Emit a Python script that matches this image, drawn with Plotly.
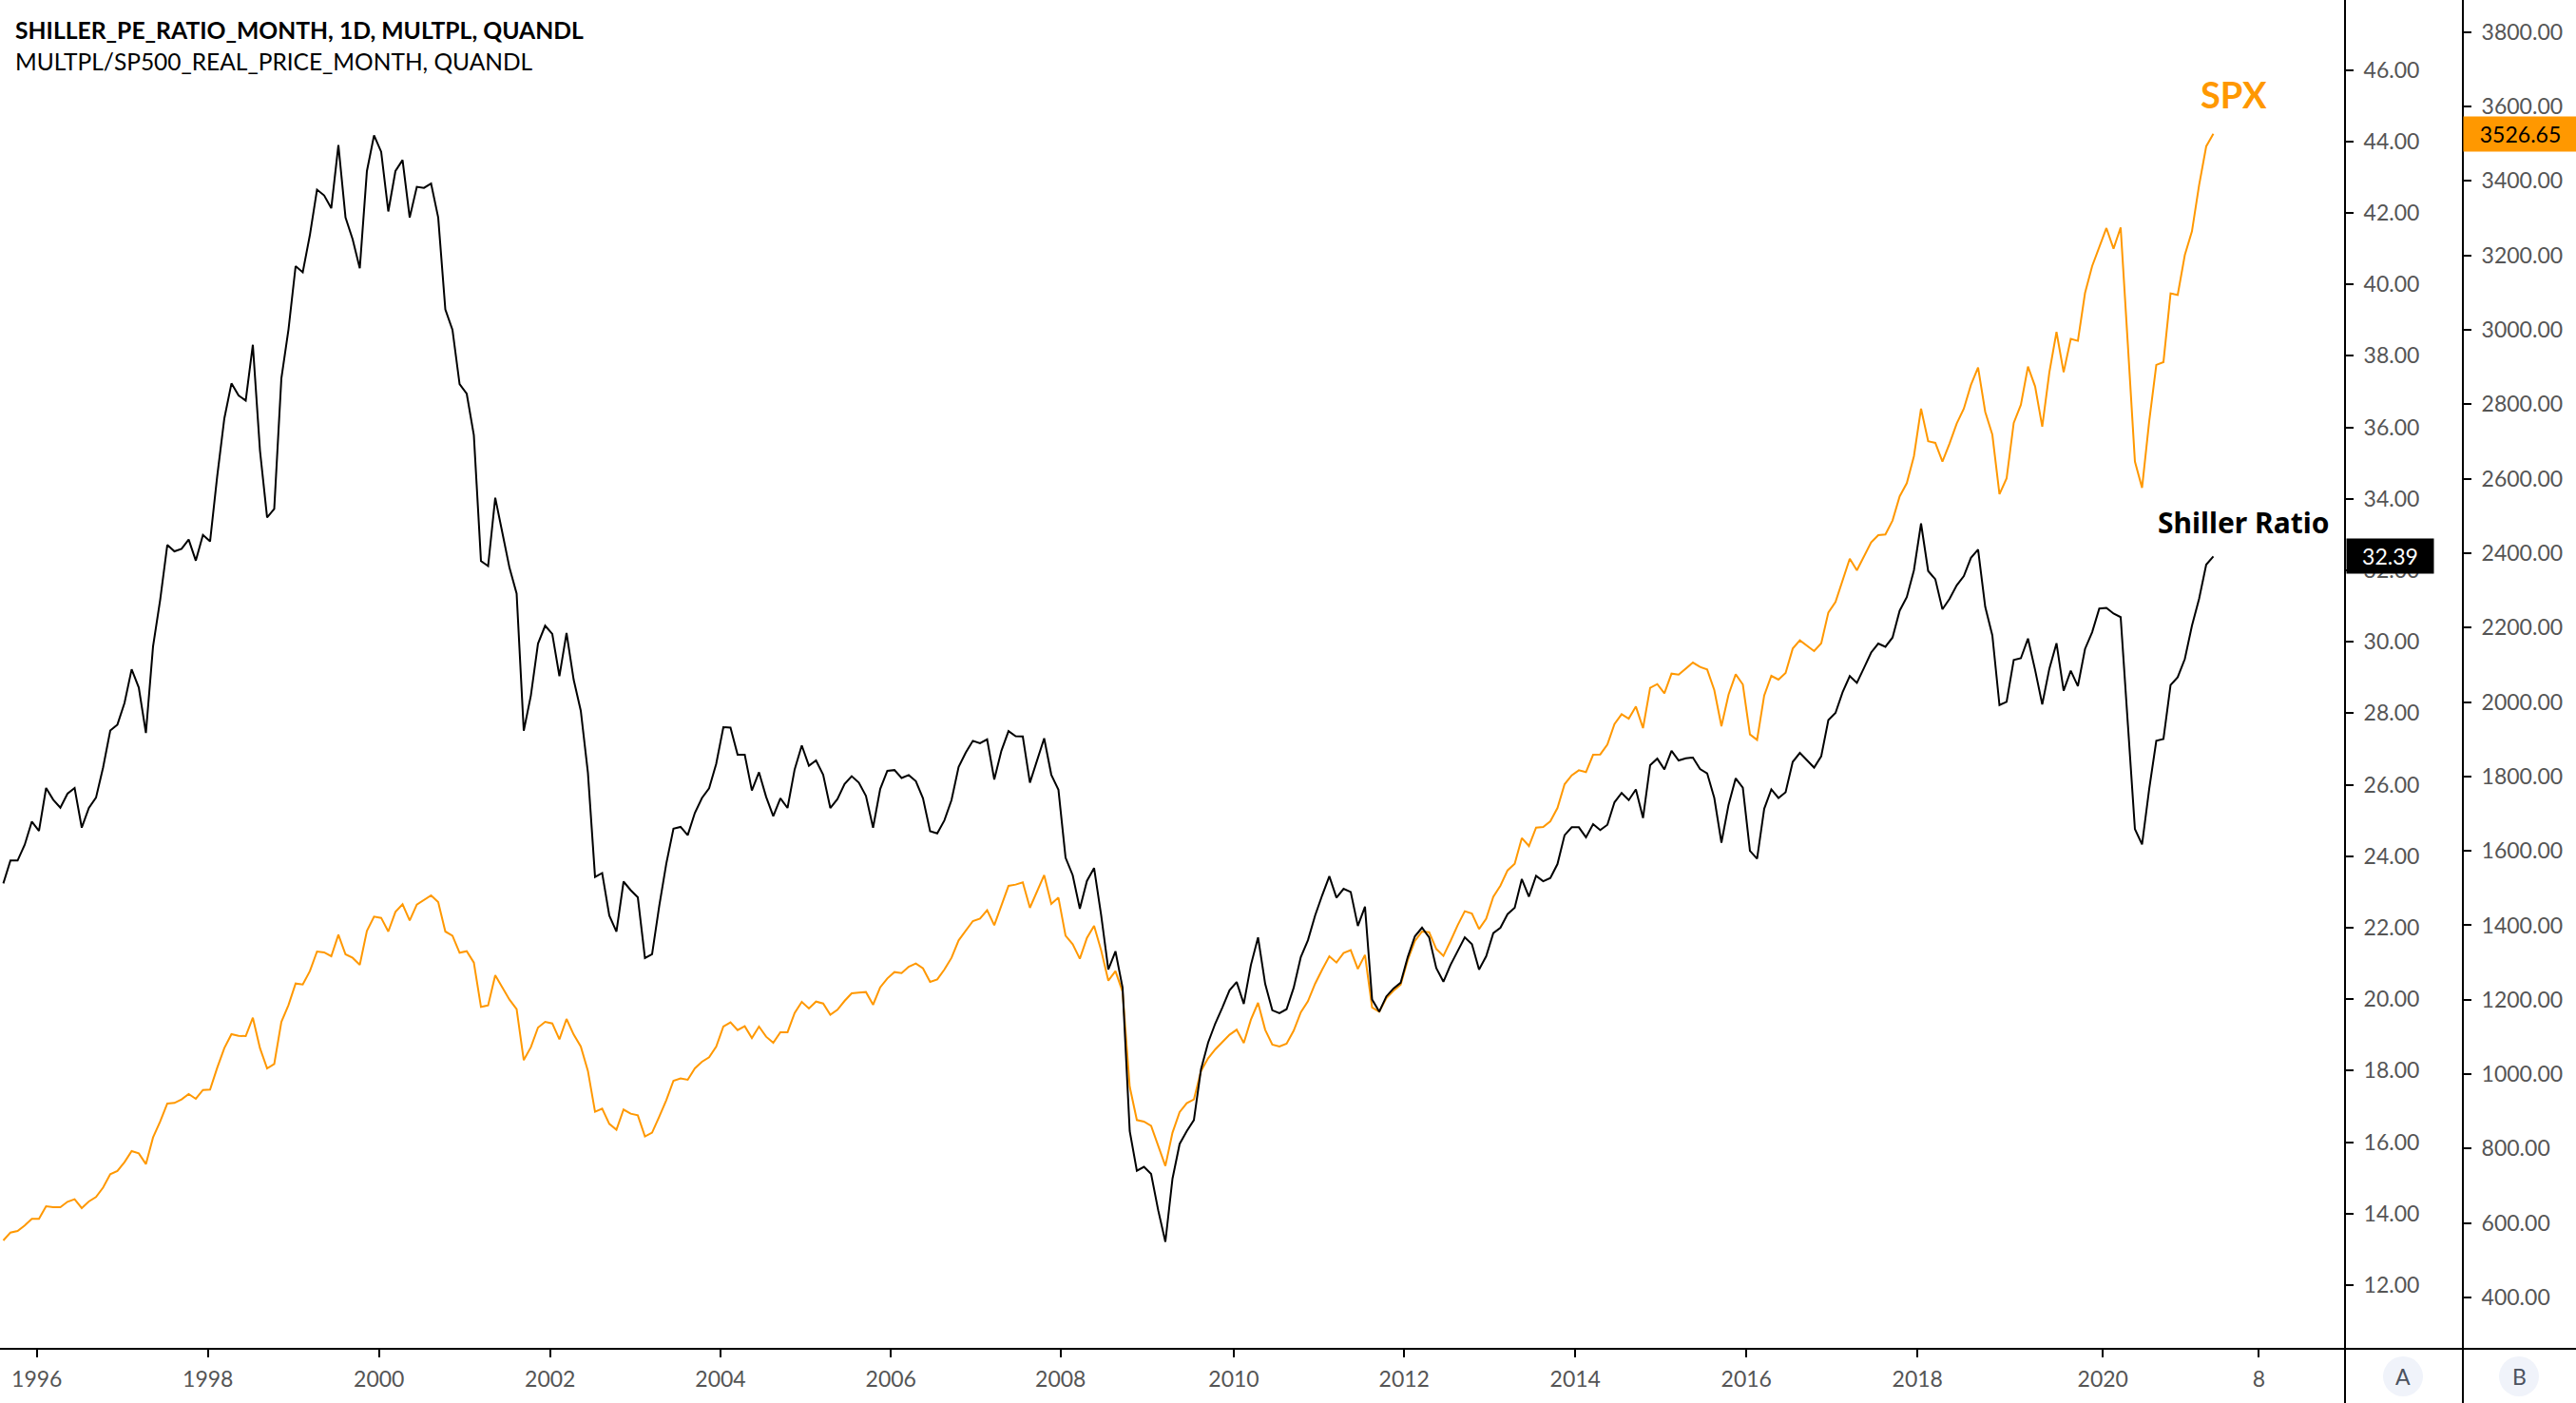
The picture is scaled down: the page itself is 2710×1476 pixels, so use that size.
import plotly.graph_objects as go

shiller = [
 23.24,23.88,23.88,24.32,24.97,24.71,25.91,25.58,25.36,25.75,
 25.91,24.80,25.35,25.64,26.49,27.52,27.68,28.29,29.23,28.72,
 27.45,29.87,31.17,32.71,32.53,32.60,32.86,32.27,32.99,32.81,
 34.63,36.25,37.23,36.89,36.75,38.31,35.35,33.48,33.72,37.37,
 38.74,40.51,40.34,41.38,42.65,42.49,42.13,43.90,41.87,41.26,
 40.45,43.17,44.17,43.71,42.04,43.17,43.48,41.87,42.73,42.70,
 42.82,41.87,39.30,38.73,37.21,36.94,35.78,32.26,32.12,34.03,
 33.05,32.07,31.35,27.51,28.50,29.95,30.45,30.22,29.04,30.25,
 28.94,28.07,26.34,23.42,23.53,22.34,21.89,23.29,23.05,22.85,
 21.15,21.26,22.60,23.80,24.77,24.82,24.59,25.21,25.63,25.90,
 26.59,27.61,27.60,26.84,26.84,25.84,26.35,25.66,25.12,25.62,
 25.35,26.43,27.10,26.53,26.68,26.28,25.35,25.60,26.02,26.24,
 26.06,25.69,24.80,25.88,26.39,26.41,26.19,26.27,26.10,25.62,
 24.70,24.64,25.00,25.57,26.50,26.90,27.23,27.16,27.27,26.15,
 26.95,27.50,27.36,27.35,26.06,26.68,27.30,26.28,25.86,23.96,
 23.47,22.53,23.31,23.67,22.34,20.83,21.34,20.32,16.31,15.20,
 15.31,15.11,14.09,13.21,14.98,15.95,16.31,16.62,18.04,18.79,
 19.32,19.77,20.25,20.48,19.87,20.96,21.73,20.43,19.69,19.61,
 19.72,20.32,21.18,21.65,22.34,22.91,23.44,22.84,23.09,23.00,
 22.05,22.59,19.99,19.65,20.08,20.30,20.46,21.18,21.76,22.00,
 21.73,20.87,20.49,20.96,21.36,21.73,21.54,20.83,21.20,21.85,
 22.00,22.38,22.56,23.36,22.87,23.45,23.30,23.39,23.78,24.59,
 24.81,24.81,24.53,24.90,24.73,24.88,25.51,25.77,25.57,25.87,
 25.07,26.55,26.73,26.43,26.95,26.68,26.74,26.76,26.44,26.32,
 25.63,24.38,25.44,26.18,25.92,24.15,23.93,25.33,25.87,25.63,
 25.79,26.64,26.89,26.68,26.48,26.80,27.81,28.01,28.59,29.04,
 28.85,29.27,29.70,29.95,29.86,30.12,30.87,31.25,32.00,33.31,
 31.98,31.75,30.91,31.20,31.58,31.84,32.35,32.58,30.98,30.18,
 28.23,28.32,29.49,29.54,30.09,29.21,28.25,29.25,29.96,28.63,
 29.19,28.76,29.80,30.27,30.93,30.95,30.79,30.69,27.83,24.76,
 24.33,25.88,27.23,27.28,28.79,29.01,29.52,30.45,31.20,32.16,
 32.39,
]

spx = [
 553.2,574.5,578.8,593.2,611.1,611.1,645.2,642.6,642.6,657.1,
 663.9,640.0,657.9,669.9,695.4,731.2,739.7,763.5,793.3,787.3,
 758.4,829.9,872.5,921.0,922.7,932.1,946.5,933.8,957.6,958.5,
 1017.2,1070.0,1107.4,1103.2,1102.3,1151.7,1070.0,1015.5,1027.4,1140.6,
 1185.8,1243.6,1241.1,1276.9,1329.6,1327.1,1316.9,1374.7,1322.0,1312.6,
 1293.9,1385.0,1423.3,1419.9,1383.3,1436.1,1456.5,1413.1,1455.6,1468.4,
 1480.3,1462.4,1383.3,1372.2,1326.2,1330.5,1299.8,1180.7,1184.9,1265.8,
 1234.3,1200.2,1174.7,1037.6,1072.5,1125.3,1140.6,1136.4,1093.8,1148.3,
 1106.6,1074.2,1008.7,898.9,907.4,866.5,850.4,904.9,893.8,889.5,
 832.5,842.7,885.3,930.4,982.3,988.3,984.9,1015.5,1033.4,1045.3,
 1074.3,1127.9,1139.0,1118.5,1128.7,1097.2,1127.9,1100.6,1084.5,1112.6,
 1112.6,1164.5,1194.3,1176.4,1195.1,1190.0,1159.4,1173.0,1196.8,1217.3,
 1219.0,1220.7,1186.6,1233.4,1257.3,1274.3,1271.8,1288.8,1297.3,1284.5,
 1247.9,1254.7,1281.1,1312.6,1359.4,1385.0,1411.4,1418.2,1440.3,1400.3,
 1455.7,1505.9,1509.3,1515.2,1447.1,1491.4,1534.8,1457.4,1474.4,1372.2,
 1349.2,1310.1,1366.3,1398.6,1332.2,1251.3,1276.9,1221.5,966.1,876.8,
 872.5,861.4,804.4,753.3,842.7,898.0,921.9,932.1,1008.7,1042.8,
 1066.6,1087.0,1105.8,1119.4,1083.6,1146.6,1191.7,1119.4,1079.4,1074.3,
 1081.9,1116.8,1166.2,1196.0,1242.8,1281.1,1316.9,1299.9,1325.4,1333.1,
 1282.8,1320.3,1179.0,1167.9,1204.5,1224.1,1240.3,1306.7,1357.7,1383.3,
 1381.6,1336.5,1317.7,1357.7,1400.3,1437.8,1431.8,1390.1,1417.3,1476.9,
 1506.7,1547.6,1565.5,1634.4,1613.1,1662.5,1664.2,1679.5,1715.3,1779.1,
 1803.0,1816.6,1811.5,1858.3,1859.2,1885.6,1940.9,1967.3,1955.4,1987.7,
 1929.8,2037.9,2048.2,2023.5,2076.3,2073.7,2089.0,2106.0,2094.1,2087.3,
 2032.0,1934.9,2020.1,2074.5,2047.3,1912.8,1898.3,2017.5,2070.3,2060.1,
 2077.9,2143.5,2165.6,2151.2,2136.7,2158.0,2240.6,2268.6,2325.0,2385.0,
 2354.0,2390.6,2429.0,2448.5,2450.2,2487.7,2552.4,2588.1,2660.5,2788.2,
 2700.5,2696.2,2646.0,2694.5,2748.2,2788.2,2852.0,2898.9,2779.7,2718.4,
 2558.3,2600.9,2749.9,2798.4,2901.4,2847.8,2739.7,2886.1,2994.2,2886.1,
 2975.5,2970.4,3098.9,3171.3,3224.9,3273.4,3218.1,3275.1,2962.7,2646.0,
 2575.4,2754.1,2905.7,2913.3,3098.1,3093.8,3201.1,3264.9,3388.4,3493.1,
 3526.65,
]
assert len(shiller) == 311 and len(spx) == 311

bars = list(range(len(shiller)))
x_tick_bars = [4.7, 28.7, 52.7, 76.7, 100.6, 124.5, 148.3, 172.6, 196.5, 220.5, 244.5, 268.5, 294.5, 316.4]
x_tick_labels = ["1996", "1998", "2000", "2002", "2004", "2006", "2008", "2010", "2012", "2014", "2016", "2018", "2020", "8"]
shiller_ticks = list(range(12, 48, 2))
spx_ticks = list(range(400, 4000, 200))

W, H = 2710, 1476
AX_A, AX_B, BOTTOM = 2467, 2591, 1419
ORANGE = "#FF9800"
TICK_GREY = "#555555"
FONT = "Lato"
px = lambda v: v / W
py = lambda v: 1 - v / H

tickfont = dict(family=FONT, size=23, color=TICK_GREY)
fig = go.Figure()
fig.add_trace(go.Scatter(x=bars, y=spx, mode="lines", yaxis="y", line=dict(color=ORANGE, width=2), showlegend=False))
fig.add_trace(go.Scatter(x=bars, y=shiller, mode="lines", yaxis="y2", line=dict(color="black", width=2), showlegend=False))

def note(x, y, text, size, color="black", xanchor="left", yanchor="middle", xref="paper", yref="paper", family=FONT, **kw):
    return dict(x=x, y=y, text=text, xref=xref, yref=yref, xanchor=xanchor, yanchor=yanchor,
                showarrow=False, font=dict(family=family, size=size, color=color), **kw)

shapes = [
    dict(type="line", xref="paper", yref="paper", x0=0, x1=1, y0=py(BOTTOM), y1=py(BOTTOM), line=dict(color="black", width=2)),
    dict(type="line", xref="paper", yref="paper", x0=px(AX_A), x1=px(AX_A), y0=0, y1=1, line=dict(color="black", width=2)),
    dict(type="line", xref="paper", yref="paper", x0=px(AX_B), x1=px(AX_B), y0=0, y1=1, line=dict(color="black", width=2)),
]
for cx in (2528, 2650):
    shapes.append(dict(type="circle", xref="paper", yref="paper", x0=px(cx - 21), x1=px(cx + 21),
                       y0=py(1448 + 21), y1=py(1448 - 21), fillcolor="#F0F3FA", line=dict(width=0)))

annotations = [
    note(px(14), py(31), "<b>SHILLER_PE_RATIO_MONTH, 1D, MULTPL, QUANDL</b>", 24.7),
    note(px(14), py(65), "MULTPL/SP500_REAL_PRICE_MONTH, QUANDL", 24.5),
    note(px(2350), py(99), "<b>SPX</b>", 38, ORANGE, xanchor="center"),
    note(px(2360), py(549), "<b>Shiller Ratio</b>", 30, xanchor="center", family="Noto Sans"),
    note(px(AX_A + 1), shiller[-1], "%.2f" % shiller[-1], 23, "white", yref="y2", width=91, height=36, bgcolor="black", align="center", borderpad=0),
    note(px(AX_B), spx[-1], "%.2f" % spx[-1], 23, "black", yref="y", width=119, height=36, bgcolor=ORANGE, align="center", borderpad=0),
    note(px(2528), py(1448), "A", 23, "#4C525E", xanchor="center"),
    note(px(2650), py(1448), "B", 23, "#4C525E", xanchor="center"),
]

fig.update_layout(
    width=W, height=H, autosize=False,
    margin=dict(l=0, r=0, t=0, b=0, pad=0),
    paper_bgcolor="white", plot_bgcolor="white",
    showlegend=False, hovermode=False,
    xaxis=dict(domain=[0, px(AX_A)], range=[-0.467, 328.47], showgrid=False, zeroline=False, showline=False,
               tickmode="array", tickvals=x_tick_bars, ticktext=x_tick_labels, ticks="outside",
               ticklen=8, tickwidth=2, tickcolor="black", tickfont=tickfont, tickangle=0, anchor="y",
               ticklabelstandoff=3),
    yaxis=dict(domain=[py(BOTTOM), 1], range=[262, 3886.3], side="right", anchor="free", position=px(AX_B),
               showgrid=False, zeroline=False, showline=False, tickmode="array", tickvals=spx_ticks,
               tickformat=".2f", ticks="outside", ticklen=8, tickwidth=2, tickcolor="black", tickfont=tickfont,
               ticklabelstandoff=6),
    yaxis2=dict(domain=[py(BOTTOM), 1], range=[10.218, 47.957], side="right", anchor="x", overlaying="y",
                showgrid=False, zeroline=False, showline=False, tickmode="array", tickvals=shiller_ticks,
                tickformat=".2f", ticks="outside", ticklen=8, tickwidth=2, tickcolor="black", tickfont=tickfont,
                ticklabelstandoff=6),
    shapes=shapes, annotations=annotations,
)
fig.write_html("out.html", config={"displayModeBar": False},
               post_script="document.body.style.margin='0';document.documentElement.style.overflow='hidden';")
